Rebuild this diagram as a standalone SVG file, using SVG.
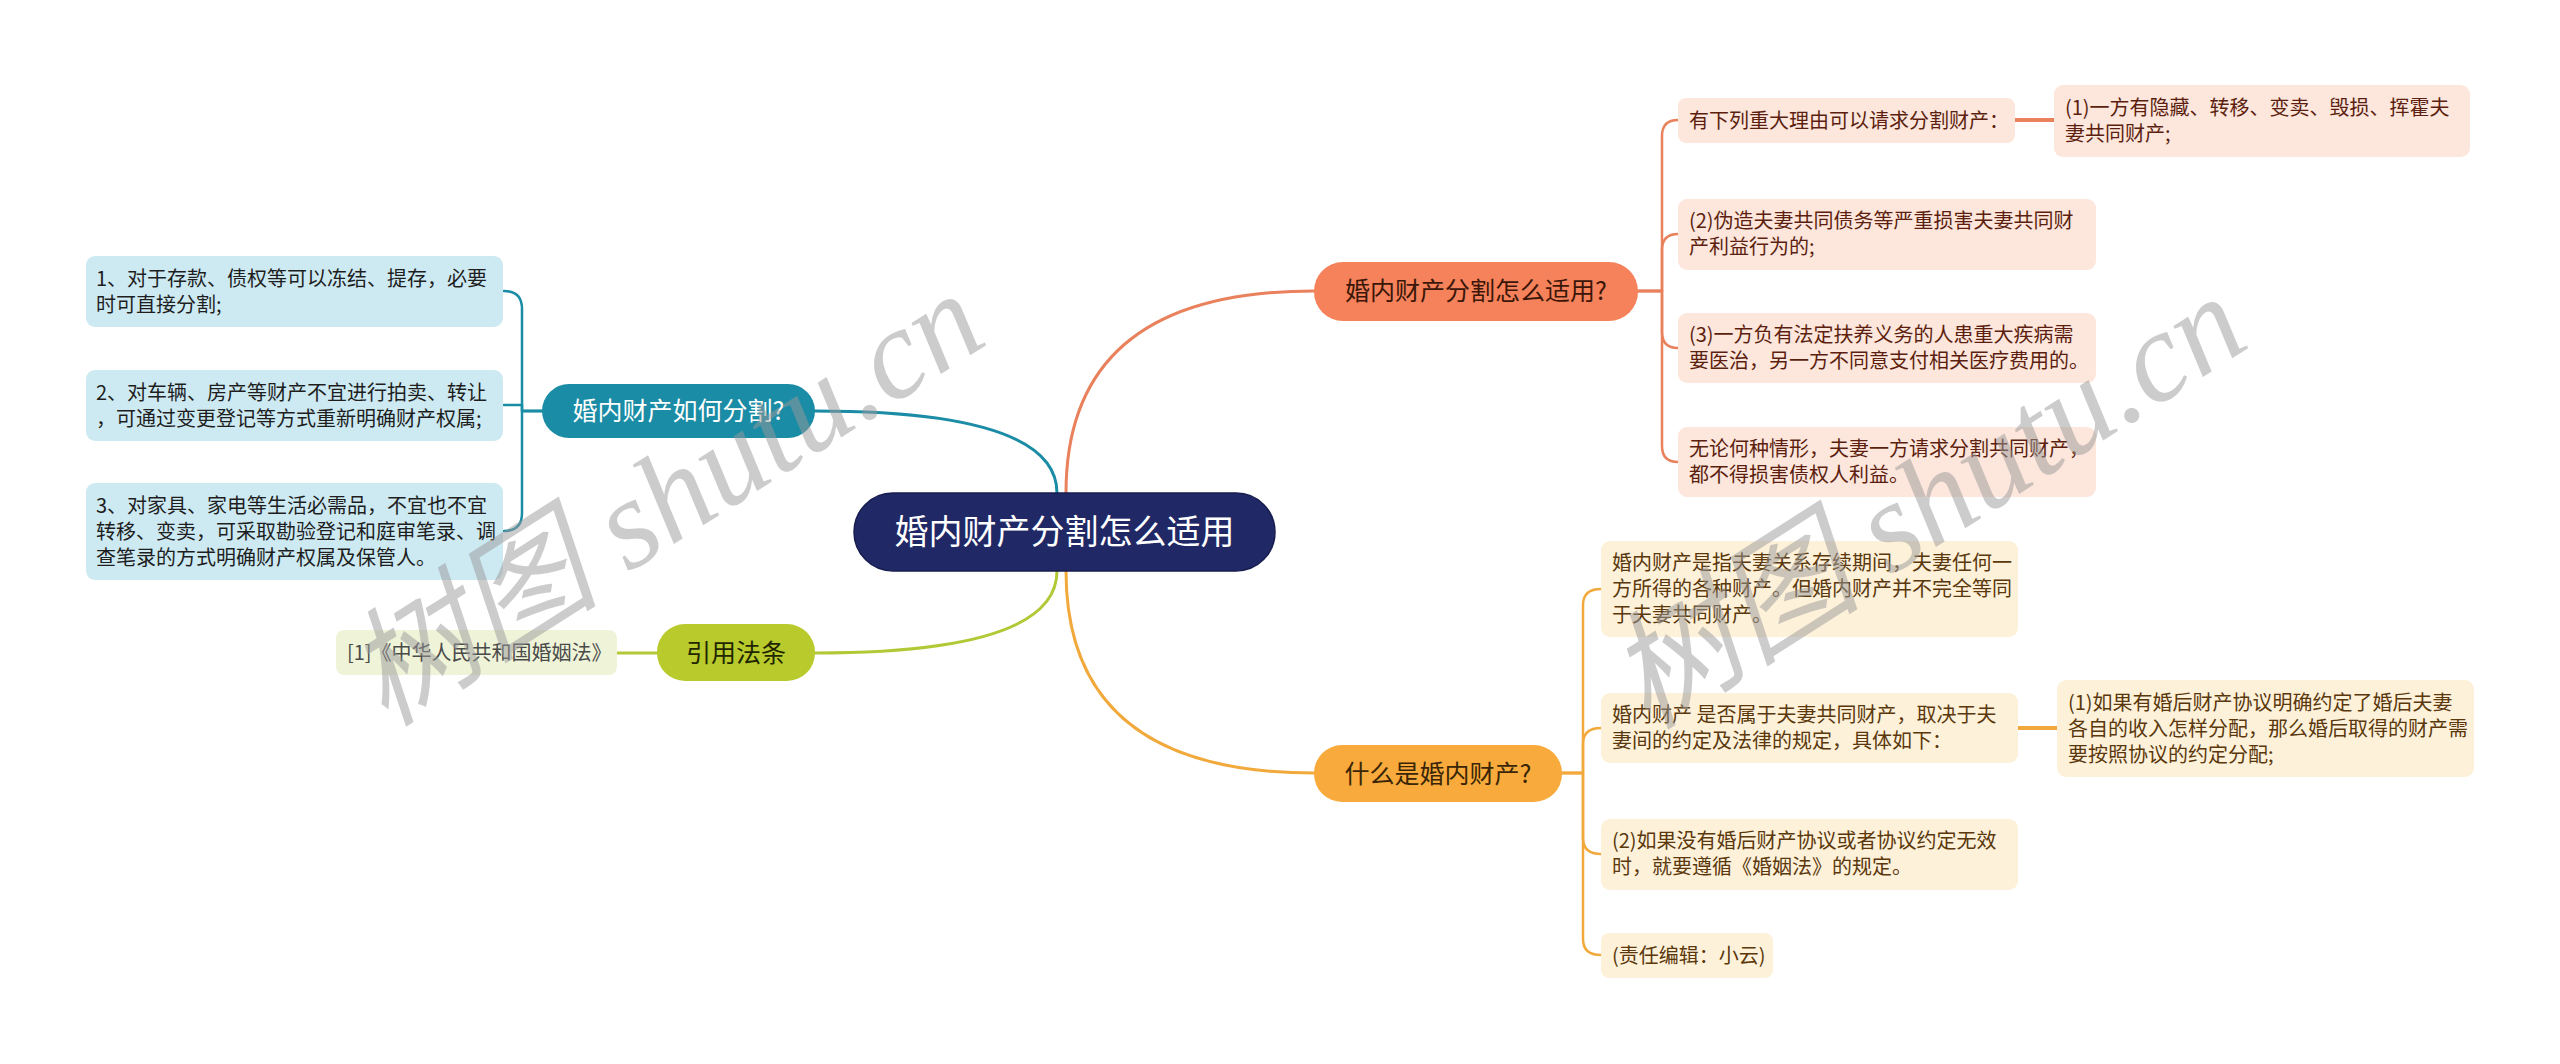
<svg xmlns="http://www.w3.org/2000/svg" width="2560" height="1064" viewBox="0 0 2560 1064">
<style>
text{font-family:"Noto Sans CJK SC","Noto Sans",sans-serif;}
.t20{font-size:20px;}
.t25{font-size:25px;}
.c{fill:none;stroke-linecap:round;stroke-linejoin:round;}
.teal{stroke:#1a8ca5;}
.coral{stroke:#e8815c;}
.green{stroke:#b3c836;}
.orange{stroke:#f2a93c;}
.bt{fill:#cdeaf3;}
.bc{fill:#fde6dc;}
.bo{fill:#fef1da;}
.bg{fill:#eff4d9;}
.tt{fill:#1e1e1e;}
.tc{fill:#5c1f0f;}
.to{fill:#5a380c;}
.wm{font-family:"Liberation Serif","Noto Sans CJK SC",serif;font-style:italic;font-size:128px;fill:#9a9a9a;opacity:0.5;}
</style>
<rect width="2560" height="1064" fill="#ffffff"/>
<g id="connectors">
<path class="c teal" stroke-width="3" d="M1057,493 Q1057,411 815,411"/>
<path class="c coral" stroke-width="3" d="M1066,493 Q1066,291 1314,291"/>
<path class="c green" stroke-width="3" d="M1057,571 Q1057,653 815,653"/>
<path class="c orange" stroke-width="3" d="M1066,571 Q1066,773 1314,773"/>
<path class="c teal" stroke-width="2.5" d="M542,411 H522 V309 Q522,291 504,291"/>
<path class="c teal" stroke-width="2.5" d="M542,411 H522 V405 H504"/>
<path class="c teal" stroke-width="2.5" d="M542,411 H522 V513 Q522,531 504,531"/>
<path class="c green" stroke-width="3" d="M657,653 H617"/>
<path class="c coral" stroke-width="2.5" d="M1638,291 H1662 V136 Q1662,120 1678,120"/>
<path class="c coral" stroke-width="2.5" d="M1638,291 H1662 V250 Q1662,234 1678,234"/>
<path class="c coral" stroke-width="2.5" d="M1638,291 H1662 V332 Q1662,348 1678,348"/>
<path class="c coral" stroke-width="2.5" d="M1638,291 H1662 V446 Q1662,462 1678,462"/>
<path class="c coral" stroke-width="4" d="M2015,120 H2054"/>
<path class="c orange" stroke-width="2.5" d="M1562,773 H1583 V605 Q1583,589 1601,589"/>
<path class="c orange" stroke-width="2.5" d="M1562,773 H1583 V744 Q1583,728 1601,728"/>
<path class="c orange" stroke-width="2.5" d="M1562,773 H1583 V838 Q1583,854 1601,854"/>
<path class="c orange" stroke-width="2.5" d="M1562,773 H1583 V939 Q1583,955 1601,955"/>
<path class="c orange" stroke-width="4" d="M2018,728 H2057"/>
</g>
<g id="root">
<rect x="854" y="493" width="421" height="78" rx="39" fill="#202866" stroke="#161d4f" stroke-width="1.5"/>
<text x="1064.5" y="544" font-size="34" fill="#ffffff" text-anchor="middle">婚内财产分割怎么适用</text>
</g>
<g id="b-teal">
<rect x="542" y="384" width="273" height="54" rx="27" fill="#1a8ca5"/>
<text class="t25" x="678.5" y="420" fill="#ffffff" text-anchor="middle">婚内财产如何分割?</text>
</g>
<g id="teal-1">
<rect class="bt" x="86" y="256" width="417" height="71" rx="9"/>
<text class="t20 tt" x="96"><tspan x="96" y="286">1、对于存款、债权等可以冻结、提存，必要</tspan><tspan x="96" y="312">时可直接分割;</tspan></text>
</g>
<g id="teal-2">
<rect class="bt" x="86" y="370" width="417" height="71" rx="9"/>
<text class="t20 tt"><tspan x="96" y="400">2、对车辆、房产等财产不宜进行拍卖、转让</tspan><tspan x="96" y="426">，可通过变更登记等方式重新明确财产权属;</tspan></text>
</g>
<g id="teal-3">
<rect class="bt" x="86" y="483" width="417" height="97" rx="9"/>
<text class="t20 tt"><tspan x="96" y="513">3、对家具、家电等生活必需品，不宜也不宜</tspan><tspan x="96" y="539">转移、变卖，可采取勘验登记和庭审笔录、调</tspan><tspan x="96" y="565">查笔录的方式明确财产权属及保管人。</tspan></text>
</g>
<g id="b-green">
<rect x="657" y="624" width="158" height="57" rx="28" fill="#b8ca2c"/>
<text class="t25" x="736" y="661.5" fill="#1f2600" text-anchor="middle">引用法条</text>
</g>
<g id="green-1">
<rect class="bg" x="336" y="630" width="281" height="45" rx="8"/>
<text class="t20" x="347" y="659.5" fill="#4a4a4a">[1]《中华人民共和国婚姻法》</text>
</g>
<g id="b-coral">
<rect x="1314" y="262" width="324" height="59" rx="29" fill="#f5825a"/>
<text class="t25" x="1476" y="300" fill="#3b1608" text-anchor="middle">婚内财产分割怎么适用?</text>
</g>
<g id="coral-1">
<rect class="bc" x="1678" y="98" width="337" height="45" rx="8"/>
<text class="t20 tc" x="1689" y="127.5">有下列重大理由可以请求分割财产：</text>
</g>
<g id="coral-1-1">
<rect class="bc" x="2054" y="85" width="416" height="72" rx="9"/>
<text class="t20 tc"><tspan x="2065" y="115">(1)一方有隐藏、转移、变卖、毁损、挥霍夫</tspan><tspan x="2065" y="141">妻共同财产;</tspan></text>
</g>
<g id="coral-2">
<rect class="bc" x="1678" y="199" width="418" height="71" rx="9"/>
<text class="t20 tc"><tspan x="1689" y="228">(2)伪造夫妻共同债务等严重损害夫妻共同财</tspan><tspan x="1689" y="254">产利益行为的;</tspan></text>
</g>
<g id="coral-3">
<rect class="bc" x="1678" y="313" width="418" height="70" rx="9"/>
<text class="t20 tc"><tspan x="1689" y="342">(3)一方负有法定扶养义务的人患重大疾病需</tspan><tspan x="1689" y="368">要医治，另一方不同意支付相关医疗费用的。</tspan></text>
</g>
<g id="coral-4">
<rect class="bc" x="1678" y="427" width="418" height="70" rx="9"/>
<text class="t20 tc"><tspan x="1689" y="456">无论何种情形，夫妻一方请求分割共同财产，</tspan><tspan x="1689" y="482">都不得损害债权人利益。</tspan></text>
</g>
<g id="b-orange">
<rect x="1314" y="745" width="248" height="57" rx="28" fill="#f8ab3c"/>
<text class="t25" x="1438" y="782.5" fill="#3a2606" text-anchor="middle">什么是婚内财产?</text>
</g>
<g id="orange-1">
<rect class="bo" x="1601" y="541" width="417" height="96" rx="9"/>
<text class="t20 to"><tspan x="1612" y="570">婚内财产是指夫妻关系存续期间，夫妻任何一</tspan><tspan x="1612" y="596">方所得的各种财产。但婚内财产并不完全等同</tspan><tspan x="1612" y="622">于夫妻共同财产。</tspan></text>
</g>
<g id="orange-2">
<rect class="bo" x="1601" y="693" width="417" height="70" rx="9"/>
<text class="t20 to"><tspan x="1612" y="722">婚内财产 是否属于夫妻共同财产，取决于夫</tspan><tspan x="1612" y="748">妻间的约定及法律的规定，具体如下：</tspan></text>
</g>
<g id="orange-2-1">
<rect class="bo" x="2057" y="680" width="417" height="97" rx="9"/>
<text class="t20 to"><tspan x="2068" y="709.5">(1)如果有婚后财产协议明确约定了婚后夫妻</tspan><tspan x="2068" y="735.5">各自的收入怎样分配，那么婚后取得的财产需</tspan><tspan x="2068" y="761.5">要按照协议的约定分配;</tspan></text>
</g>
<g id="orange-3">
<rect class="bo" x="1601" y="819" width="417" height="71" rx="9"/>
<text class="t20 to"><tspan x="1612" y="848">(2)如果没有婚后财产协议或者协议约定无效</tspan><tspan x="1612" y="874">时，就要遵循《婚姻法》的规定。</tspan></text>
</g>
<g id="orange-4">
<rect class="bo" x="1601" y="933" width="172" height="45" rx="8"/>
<text class="t20 to" x="1612" y="962.5">(责任编辑：小云)</text>
</g>
<g id="watermark">
<text class="wm" x="0" y="0" text-anchor="middle" transform="translate(688,535) rotate(-32.5)">树图 shutu.cn</text>
<text class="wm" x="0" y="0" text-anchor="middle" transform="translate(1950,538) rotate(-32.5)">树图 shutu.cn</text>
</g>
</svg>
